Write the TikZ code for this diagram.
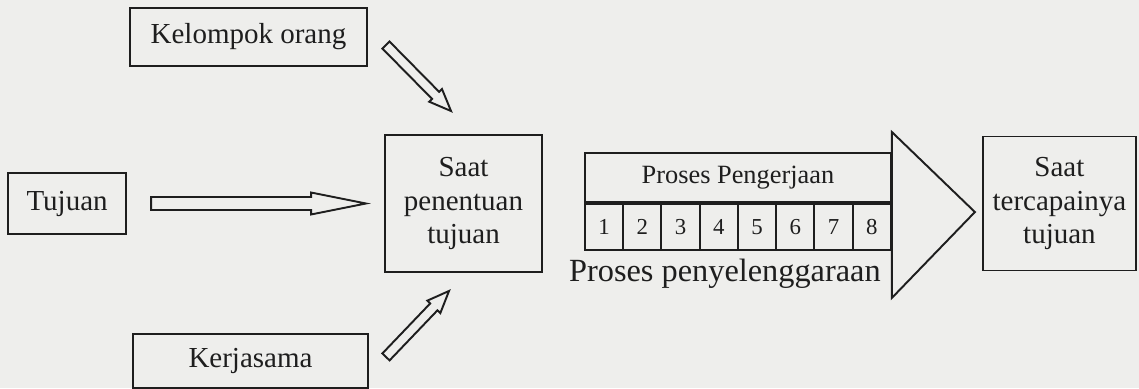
\documentclass[tikz,border=0pt]{standalone}
\usepackage{fontspec}
\setmainfont{Liberation Serif}
\usetikzlibrary{positioning, calc}
\definecolor{Paper}{HTML}{EEEEEC}
\definecolor{Ink}{HTML}{1E1E1E}

% hollow block arrow: tail, tip, shaft half width, head half width, head length
\newcommand{\hollowarrow}[5]{%
  \coordinate (ha) at (#1);
  \coordinate (hz) at (#2);
  \coordinate (hb) at ($(hz)!#5!(ha)$);
  \draw[harrow] ($(ha)!#3!90:(hz)$) -- ($(hb)!#3!90:(hz)$) -- ($(hb)!#4!90:(hz)$) -- (hz)
    -- ($(hb)!#4!-90:(hz)$) -- ($(hb)!#3!-90:(hz)$) -- ($(ha)!#3!-90:(hz)$) -- cycle;}

\begin{document}
\begin{tikzpicture}[
  box/.style={rectangle, draw=Ink, line width=1.1pt, align=center, inner sep=2pt,
              font=\fontsize{16.5}{19}\selectfont, text=Ink},
  cell/.style={rectangle, draw=Ink, line width=1.1pt, inner sep=0pt, anchor=north west, text=Ink},
  harrow/.style={draw=Ink, line width=1.1pt, line join=miter},
  node distance=0.8cm and 0.8cm
]
\fill[Paper] (0,0) rectangle (22.78,7.76);
\useasboundingbox (0,0) rectangle (22.78,7.76);

\node[box, minimum width=3.14cm, minimum height=2.74cm] (pen) at (9.27,3.69) {Saat\\penentuan\\tujuan};
\node[box, minimum width=2.36cm, minimum height=1.22cm, left=5.14cm of pen] (tuj) {Tujuan};
\node[box, minimum width=4.74cm, minimum height=1.16cm, above right=2.1cm and 0.04cm of tuj] (kel) {Kelompok orang};
\node[box, minimum width=4.70cm, minimum height=1.08cm, below right=1.96cm and 0.1cm of tuj] (ker) {Kerjasama};
\node[box, minimum width=3.06cm, minimum height=2.68cm, right=8.78cm of pen] (tca) {Saat\\tercapainya\\tujuan};

% proses pengerjaan
\node[cell, minimum width=6.12cm, minimum height=0.98cm, font=\fontsize{15}{17}\selectfont]
  (hdr) at ([xshift=0.82cm, yshift=-0.36cm]pen.north east) {Proses Pengerjaan};
\foreach \i in {1,...,8}
  \node[cell, minimum width=0.765cm, minimum height=0.92cm, font=\fontsize{13}{15}\selectfont]
    (c\i) at ($(hdr.south west)+({(\i-1)*0.765},0)$) {\i};
\coordinate (tip) at ([xshift=1.66cm, yshift=-1.2cm]hdr.north east);
\draw[harrow] ([yshift=0.4cm]hdr.north east) -- (tip) -- ([yshift=-0.94cm]c8.south east) -- cycle;
\node[anchor=north, inner sep=0pt, font=\fontsize{18.4}{21}\selectfont, text=Ink]
  (lbl) at ([xshift=-0.28cm, yshift=-0.15cm]c4.south east) {Proses penyelenggaraan};

% arrows
\hollowarrow{[xshift=0.48cm]tuj.east}{[xshift=-0.36cm]pen.west}{0.13cm}{0.22cm}{1.1cm}
\hollowarrow{[xshift=0.36cm, yshift=-0.16cm]kel.east}{[xshift=1.34cm, yshift=0.46cm]pen.north west}{0.1cm}{0.18cm}{0.44cm}
\hollowarrow{[xshift=0.34cm, yshift=0.08cm]ker.east}{[xshift=1.3cm, yshift=-0.36cm]pen.south west}{0.1cm}{0.18cm}{0.44cm}
\end{tikzpicture}
\end{document}
